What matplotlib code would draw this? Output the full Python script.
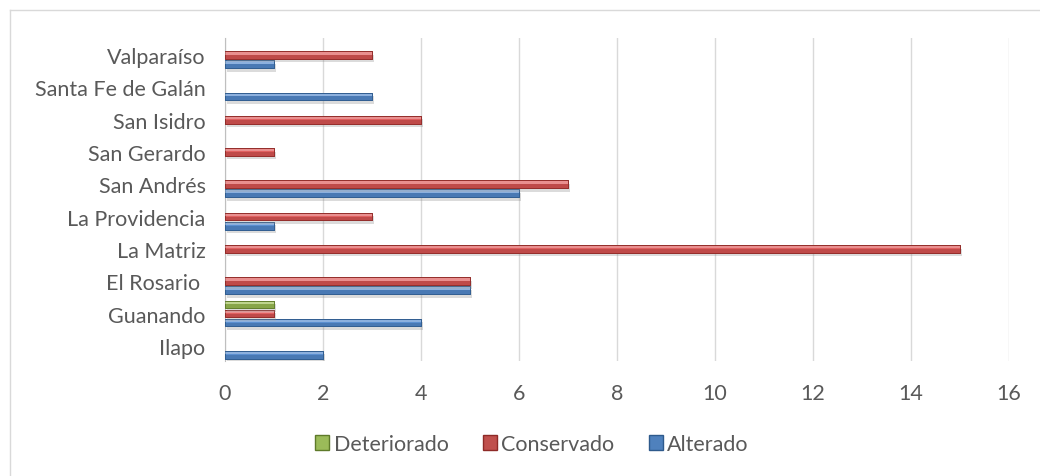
import matplotlib
matplotlib.use("Agg")
import matplotlib.pyplot as plt
import matplotlib.patheffects as pe
from matplotlib.lines import Line2D
from matplotlib.patches import Patch
import numpy as np

categories = ["Ilapo", "Guanando", "El Rosario ", "La Matriz", "La Providencia",
              "San Andrés", "San Gerardo", "San Isidro", "Santa Fe de Galán", "Valparaíso"]
alterado =    [2, 4, 5, 0, 1, 6, 0, 0, 3, 1]
conservado =  [0, 1, 5, 15, 3, 7, 1, 4, 0, 3]
deteriorado = [0, 1, 0, 0, 0, 0, 0, 0, 0, 0]
xticks = [0, 2, 4, 6, 8, 10, 12, 14, 16]

plt.rcParams['font.family'] = ['Lato', 'DejaVu Sans']
fig = plt.figure(figsize=(10.4, 4.77), dpi=100)
ax = fig.add_axes([225/1040, 1-362/477, (1009-225)/1040, (362-39)/477])

y = np.arange(len(categories))
h = 0.24
off = 0.28
series = [
    (alterado, -off, "#5B8FD0", "#2E5A8C", "Alterado"),
    (conservado, 0, "#E06060", "#8E2A27", "Conservado"),
    (deteriorado, off, "#A4C45E", "#5E7A2A", "Deteriorado"),
]
shadow = [pe.withSimplePatchShadow(offset=(1.5, -2.5), shadow_rgbFace='#888888', alpha=0.3), pe.Normal()]
for vals, o, c, dc, lab in series:
    vals = np.array(vals, dtype=float)
    mask = vals > 0
    bars = ax.barh(y[mask] + o, vals[mask], height=h, color=c, edgecolor=dc, linewidth=0.6, zorder=3)
    for b in bars:
        b.set_path_effects(shadow)
    # darker lower strip for a 3D look
    ax.barh(y[mask] + o - h*0.25, vals[mask], height=h*0.5, color=dc, alpha=0.4, linewidth=0, zorder=4)
    # light top highlight
    ax.barh(y[mask] + o + h*0.22, vals[mask], height=h*0.3, color='white', alpha=0.3, linewidth=0, zorder=4)

ax.set_xlim(0, 16)
ax.set_ylim(-0.47, 9.53)
ax.set_xticks(xticks)
ax.set_yticks(y)
ax.set_yticklabels(categories)
ax.xaxis.grid(True, color="#D9D9D9", linewidth=1, zorder=0)
ax.set_axisbelow(True)
for s in ["top", "right", "bottom"]:
    ax.spines[s].set_visible(False)
ax.spines["left"].set_color("#BFBFBF")
ax.tick_params(axis='both', length=0, labelsize=15.5, labelcolor="#595959")
ax.tick_params(axis='x', pad=16)
ax.tick_params(axis='y', pad=14)

handles = [Patch(facecolor="#9BBB59", edgecolor="#5E7A2A"),
           Patch(facecolor="#C0504D", edgecolor="#8E2A27"),
           Patch(facecolor="#4F81BD", edgecolor="#2E5A8C")]
leg = fig.legend(handles, ["Deteriorado", "Conservado", "Alterado"], loc='center',
                 bbox_to_anchor=(532/1040, 1-445/477), ncol=3, frameon=False,
                 fontsize=15.5, handlelength=0.65, handleheight=0.65, handletextpad=0.2,
                 columnspacing=1.6)
for t in leg.get_texts():
    t.set_color("#595959")

# outer chart frame
fig.add_artist(Line2D([10/1040, 10/1040], [0, 1-11/477], color="#D9D9D9", linewidth=1, transform=fig.transFigure))
fig.add_artist(Line2D([10/1040, 1], [1-11/477, 1-11/477], color="#D9D9D9", linewidth=1, transform=fig.transFigure))

fig.savefig("out.png", dpi=100)
